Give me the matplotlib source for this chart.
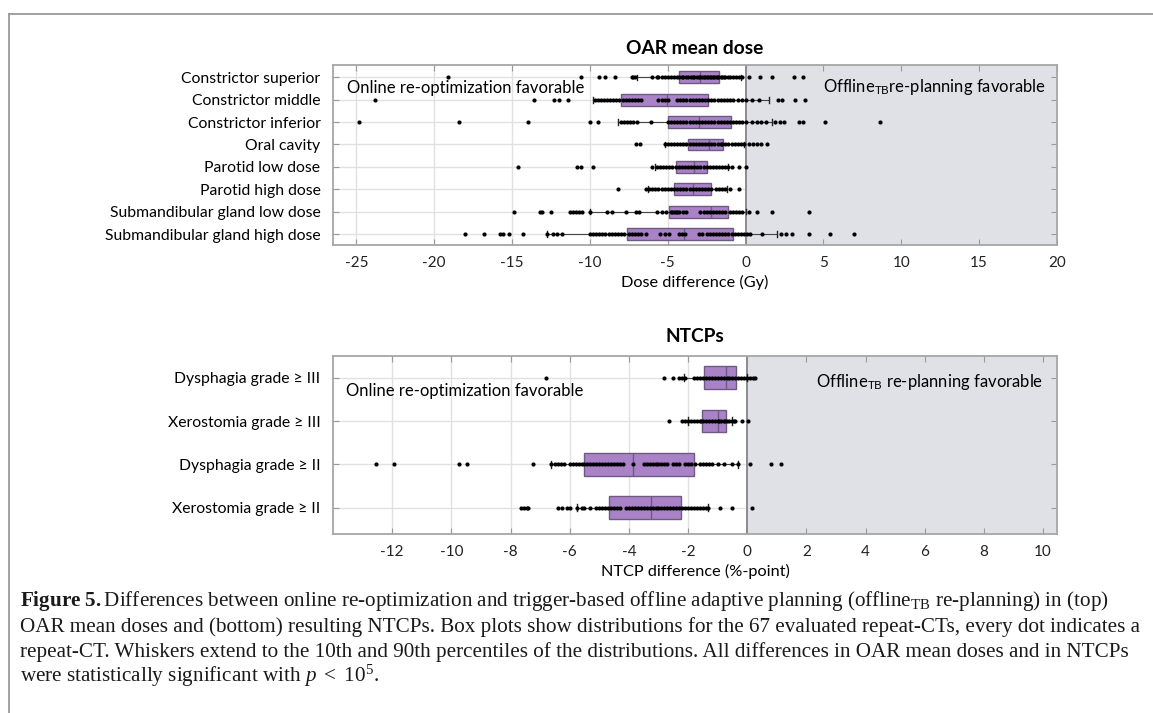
import matplotlib
matplotlib.use("Agg")
import matplotlib.pyplot as plt
from matplotlib.lines import Line2D

plt.rcParams['font.family'] = ['Lato', 'DejaVu Sans']
plt.rcParams['mathtext.fontset'] = 'custom'
plt.rcParams['mathtext.rm'] = 'Liberation Serif'
plt.rcParams['mathtext.it'] = 'Liberation Serif:italic'
plt.rcParams['mathtext.bf'] = 'Liberation Serif:bold'
plt.rcParams['mathtext.sf'] = 'Lato'

# ---- OAR mean dose differences (Gy) ----
oar_labels = ["Constrictor superior", "Constrictor middle", "Constrictor inferior", "Oral cavity",
              "Parotid low dose", "Parotid high dose", "Submandibular gland low dose",
              "Submandibular gland high dose"]
oar_q1 = [-4.27, -8.0, -5.0, -3.7, -4.45, -4.58, -4.93, -7.6]
oar_med = [-2.9, -5.05, -2.97, -2.35, -3.33, -3.4, -2.25, -3.95]
oar_q3 = [-1.73, -2.4, -0.94, -1.43, -2.5, -2.21, -1.15, -0.83]
oar_wlo = [-7.0, -9.8, -8.2, -5.2, -5.8, -6.3, -10.0, -12.75]
oar_whi = [-0.3, 1.5, 1.7, -0.1, -1.1, -1.2, 0.0, 2.0]

oar_dots = [
    [-19.1, -10.6, -9.4, -9.0, -8.4, -7.3, -7.2, -7.1, -6.0, -5.7, -5.6, -5.4, -5.2, -5.0, -4.8,
     -4.6, -4.4, -4.3, -4.1, -4.0, -3.8, -3.7, -3.5, -3.4, -3.3, -3.1, -3.0, -2.9, -2.8, -2.7,
     -2.6, -2.5, -2.4, -2.3, -2.2, -2.1, -2.0, -1.9, -1.8, -1.75, -1.6, -1.5, -1.4, -1.3, -1.1,
     -1.0, -0.8, -0.6, -0.4, -0.2, 0.2, 0.9, 1.7, 3.1, 3.7],
    [-23.8, -13.6, -12.3, -12.0, -11.4, -9.7, -9.5, -9.3, -9.1, -8.9, -8.7, -8.5, -8.3, -8.1,
     -7.9, -7.7, -7.5, -7.3, -7.1, -6.9, -6.7, -5.6, -5.4, -5.2, -5.0, -4.4, -4.2, -4.0, -3.8,
     -3.6, -3.4, -3.2, -3.0, -2.8, -2.6, -2.4, -2.2, -2.0, -1.8, -1.6, -1.4, -1.2, -1.0, -0.8,
     -0.5, -0.2, 0.0, 0.4, 0.85, 2.1, 2.35, 3.2, 3.8],
    [-24.8, -18.4, -14.0, -10.0, -9.5, -8.0, -7.8, -7.6, -7.4, -7.2, -7.0, -6.1, -5.0, -4.8,
     -4.6, -4.4, -4.2, -4.0, -3.8, -3.6, -3.4, -3.2, -3.0, -2.8, -2.6, -2.4, -2.2, -2.0, -1.8,
     -1.6, -1.4, -1.2, -1.0, -0.8, -0.6, -0.4, -0.2, 0.0, 0.4, 0.7, 1.0, 1.3, 1.9, 2.2, 2.45,
     3.4, 3.7, 5.1, 8.6],
    [-7.05, -6.8, -5.2, -5.0, -4.8, -4.6, -4.4, -4.2, -4.0, -3.8, -3.6, -3.4, -3.2, -3.0, -2.8,
     -2.6, -2.4, -2.2, -2.0, -1.8, -1.6, -1.5, -1.3, -1.1, -0.9, -0.7, -0.5, -0.3, -0.1, 0.2,
     0.5, 0.75, 1.0, 1.35],
    [-14.6, -10.8, -10.6, -9.8, -6.0, -5.7, -5.5, -5.3, -5.1, -4.9, -4.7, -4.5, -4.3, -4.1, -3.9,
     -3.7, -3.5, -3.3, -3.1, -2.9, -2.7, -2.5, -2.3, -2.1, -1.9, -1.7, -1.5, -1.3, -1.1, -0.9,
     -0.4, 0.05],
    [-8.2, -6.4, -6.2, -6.0, -5.8, -5.6, -5.4, -5.2, -5.0, -4.8, -4.6, -4.4, -4.2, -4.0, -3.8,
     -3.6, -3.4, -3.2, -3.0, -2.8, -2.6, -2.4, -2.2, -1.9, -1.7, -1.5, -1.3, -1.0, -0.4],
    [-14.9, -13.2, -13.05, -12.5, -11.3, -11.1, -10.9, -10.7, -10.5, -10.0, -8.9, -8.6, -7.7,
     -7.05, -6.85, -5.7, -5.4, -5.1, -4.8, -4.7, -4.6, -4.5, -4.4, -4.3, -4.0, -3.8, -2.9, -2.7,
     -2.5, -2.3, -2.1, -1.9, -1.7, -1.5, -1.3, -1.0, -0.8, -0.6, -0.4, -0.2, 0.2, 0.7, 1.7, 4.1],
    [-18.0, -16.8, -15.8, -15.6, -15.2, -14.3, -12.75, -12.4, -12.1, -11.8, -10.0, -9.8, -9.6,
     -9.4, -9.2, -9.0, -8.8, -8.6, -8.4, -8.2, -8.0, -7.8, -7.5, -7.3, -7.1, -6.9, -6.7, -6.4,
     -5.5, -5.2, -4.9, -4.3, -4.1, -3.9, -3.0, -2.8, -2.5, -2.3, -2.1, -1.9, -1.7, -1.5, -1.3,
     -1.1, -0.9, -0.7, -0.5, -0.3, -0.1, 0.1, 0.3, 1.07, 2.3, 2.6, 3.0, 4.1, 5.45, 6.95],
]

# ---- NTCP differences (%-point) ----
ntcp_labels = ["Dysphagia grade \u2265 III", "Xerostomia grade \u2265 III",
               "Dysphagia grade \u2265 II", "Xerostomia grade \u2265 II"]
ntcp_q1 = [-1.46, -1.52, -5.52, -4.66]
ntcp_med = [-0.72, -0.99, -3.87, -3.26]
ntcp_q3 = [-0.39, -0.72, -1.79, -2.25]
ntcp_wlo = [-2.14, -2.0, -6.63, -5.77]
ntcp_whi = [0.0, -0.5, -0.3, -1.32]

ntcp_dots = [
    [-6.8, -2.8, -2.5, -2.3, -2.2, -2.1, -1.8, -1.7, -1.6, -1.5, -1.4, -1.3, -1.2, -1.1, -1.0,
     -0.9, -0.8, -0.7, -0.6, -0.5, -0.4, -0.3, -0.2, -0.1, 0.0, 0.1, 0.2, 0.26],
    [-2.63, -2.2, -2.1, -2.0, -1.9, -1.8, -1.7, -1.6, -1.55, -1.5, -1.4, -1.3, -1.2, -1.1, -1.0,
     -0.95, -0.9, -0.8, -0.75, -0.7, -0.6, -0.5, -0.45, -0.4, -0.19, 0.03],
    [-12.55, -11.93, -9.75, -9.48, -7.23, -6.63, -6.5, -6.4, -6.3, -6.2, -6.0, -5.9, -5.8, -5.7,
     -5.6, -5.5, -5.4, -5.3, -5.2, -5.1, -5.0, -4.9, -4.8, -4.7, -4.6, -4.5, -4.4, -4.3, -4.2,
     -3.87, -3.5, -3.4, -3.3, -3.2, -3.1, -3.0, -2.9, -2.8, -2.7, -2.5, -2.4, -2.3, -2.1, -2.0,
     -1.9, -1.75, -1.6, -1.5, -1.4, -1.3, -1.2, -1.0, -0.8, -0.5, -0.3, 0.1, 0.79, 1.14],
    [-7.64, -7.55, -7.45, -7.4, -6.4, -6.25, -6.1, -6.0, -5.77, -5.6, -5.5, -5.3, -5.1, -5.0,
     -4.9, -4.8, -4.7, -4.6, -4.5, -4.4, -4.3, -4.1, -4.0, -3.9, -3.8, -3.7, -3.6, -3.5, -3.4,
     -3.3, -3.2, -3.1, -3.0, -2.9, -2.8, -2.7, -2.6, -2.5, -2.4, -2.3, -2.2, -2.1, -2.0, -1.9,
     -1.8, -1.7, -1.6, -1.5, -1.4, -1.32, -0.92, -0.53, 0.17],
]

caption_lines = [
    r"$\mathbf{Figure\ 5.}$Differences between online re-optimization and trigger-based offline adaptive planning (offline$_{\mathrm{TB}}$ re-planning) in (top)",
    "OAR mean doses and (bottom) resulting NTCPs. Box plots show distributions for the 67 evaluated repeat-CTs, every dot indicates a",
    "repeat-CT. Whiskers extend to the 10th and 90th percentiles of the distributions. All differences in OAR mean doses and in NTCPs",
    r"were statistically significant with $p\ <\ 10^5$.",
]

W, H = 1153, 713
BOX_FACE = "#a982c8"
BOX_EDGE = "#6f5a82"
GRID = "#e1e1e4"
SHADE = "#e0e0e7"
SPINE = "#a6a6a6"


def px_axes(fig, left, top, right, bottom):
    return fig.add_axes([left / W, 1 - bottom / H, (right - left) / W, (bottom - top) / H])


def draw_panel(ax, labels, dots, q1, med, q3, wlo, whi, xlim, ylim, xticks, capw):
    positions = list(range(1, len(labels) + 1))
    stats = []
    for i in range(len(labels)):
        stats.append(dict(q1=q1[i], med=med[i], q3=q3[i], whislo=wlo[i], whishi=whi[i], fliers=[]))
    ax.axvspan(0, xlim[1], color=SHADE, zorder=0.1, lw=0)
    ax.set_axisbelow(True)
    ax.grid(True, color=GRID, lw=1.0)
    ax.axvline(0, color="#8c8c8c", lw=1.4, zorder=1)
    ax.bxp(stats, positions=positions, orientation="horizontal", widths=0.52, patch_artist=True,
           showfliers=False, capwidths=capw, zorder=2,
           boxprops=dict(facecolor=BOX_FACE, edgecolor=BOX_EDGE, lw=1.0),
           medianprops=dict(color=BOX_EDGE, lw=1.0),
           whiskerprops=dict(color="#444444", lw=0.8),
           capprops=dict(color="#222222", lw=1.0))
    for pos, vals in zip(positions, dots):
        ax.plot(vals, [pos] * len(vals), "o", color="black", ms=3.0, mew=0, zorder=3)
    ax.set_xlim(*xlim)
    ax.set_ylim(*ylim)
    ax.set_xticks(xticks)
    ax.set_xticklabels([str(t) for t in xticks], fontsize=11, color="#222222")
    ax.set_yticks(positions)
    ax.set_yticklabels(labels, fontsize=11.3)
    ax.tick_params(direction="in", top=True, right=True, color="#9a9a9a", length=4, width=0.8)
    ax.tick_params(axis="x", pad=8)
    ax.tick_params(axis="y", pad=9)
    for sp in ax.spines.values():
        sp.set_color(SPINE)
        sp.set_linewidth(1.3)


fig = plt.figure(figsize=(W / 100, H / 100), dpi=100)

ax1 = px_axes(fig, 333, 65, 1057, 244.6)
draw_panel(ax1, oar_labels, oar_dots, oar_q1, oar_med, oar_q3, oar_wlo, oar_whi,
           (-26.5, 20), (8.47, 0.45), list(range(-25, 21, 5)), 0.25)
ax1.set_title("OAR mean dose", fontsize=13.8, fontweight="bold", pad=8)
ax1.set_xlabel("Dose difference (Gy)", fontsize=11.7, labelpad=4)
ax1.text(-25.6, 1.48, "Online re-optimization favorable", fontsize=12.0, va="center", ha="left")
ax1.text(4.95, 1.45, r"Offline$_{\mathsf{TB}}$re-planning favorable", fontsize=12.0, va="center", ha="left")

ax2 = px_axes(fig, 333, 356, 1057, 533.7)
draw_panel(ax2, ntcp_labels, ntcp_dots, ntcp_q1, ntcp_med, ntcp_q3, ntcp_wlo, ntcp_whi,
           (-14.0, 10.47), (4.6, 0.5), list(range(-12, 11, 2)), 0.17)
ax2.set_title("NTCPs", fontsize=13.8, fontweight="bold", pad=10)
ax2.set_xlabel("NTCP difference (%-point)", fontsize=11.7, labelpad=4)
ax2.text(-13.55, 1.3, "Online re-optimization favorable", fontsize=12.0, va="center", ha="left")
ax2.text(2.34, 1.09, r"Offline$_{\mathsf{TB}}$ re-planning favorable", fontsize=12.0, va="center", ha="left")

# page frame
fig.add_artist(Line2D([9 / W, 1], [1 - 14 / H, 1 - 14 / H], transform=fig.transFigure, color="#9a9a9a", lw=1.3))
fig.add_artist(Line2D([9 / W, 9 / W], [0, 1 - 14 / H], transform=fig.transFigure, color="#9a9a9a", lw=1.3))

for i, line in enumerate(caption_lines):
    y = [606, 632, 657, 682][i]
    fig.text(20 / W, 1 - y / H, line, fontsize=15.2, family="Liberation Serif", va="baseline", ha="left",
             color="#1a1a1a")

fig.savefig("out.png", dpi=100)
